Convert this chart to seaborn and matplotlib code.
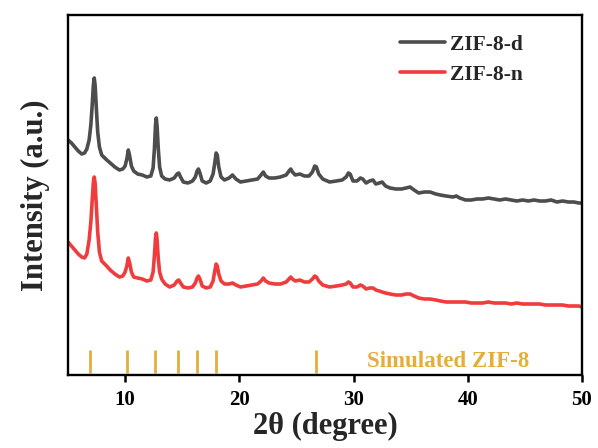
import numpy as np
import pandas as pd
import matplotlib
matplotlib.use("Agg")
import matplotlib.pyplot as plt
import seaborn as sns

# ---- data (2theta in degree, intensity in arbitrary units) ----
two_theta = [5.0, 5.3, 5.6, 5.9, 6.2, 6.45, 6.65, 6.85, 7.0, 7.12,
             7.22, 7.3, 7.38, 7.48, 7.6, 7.75, 7.95, 8.3, 8.7, 9.1,
             9.5, 9.8, 10.0, 10.15, 10.28, 10.4, 10.55, 10.75, 11.1, 11.5,
             11.9, 12.25, 12.45, 12.57, 12.66, 12.73, 12.8, 12.9, 13.02, 13.2,
             13.5, 13.9, 14.3, 14.55, 14.7, 14.85, 15.1, 15.5, 15.9, 16.15,
             16.3, 16.42, 16.55, 16.75, 17.1, 17.45, 17.7, 17.85, 17.97, 18.07,
             18.2, 18.4, 18.7, 19.1, 19.4, 19.7, 20.1, 20.6, 21.1, 21.6,
             21.9, 22.1, 22.3, 22.6, 23.1, 23.6, 24.1, 24.35, 24.5, 24.65,
             24.9, 25.3, 25.7, 26.1, 26.4, 26.6, 26.75, 26.95, 27.3, 27.9,
             28.5, 29.0, 29.35, 29.55, 29.7, 29.95, 30.3, 30.6, 30.8, 31.1,
             31.4, 31.7, 31.95, 32.25, 32.5, 32.8, 33.2, 33.7, 34.2, 34.6,
             34.95, 35.3, 35.7, 36.2, 36.7, 37.2, 37.6, 38.1, 38.7, 39.0,
             39.3, 39.8, 40.3, 40.8, 41.3, 41.8, 42.3, 42.8, 43.3, 43.8,
             44.3, 44.8, 45.3, 45.8, 46.3, 46.8, 47.3, 47.8, 48.3, 48.8,
             49.3, 49.7, 50.0]

zif8_d = [235, 232, 228, 224, 221, 222, 226, 235, 250, 270,
          290, 297, 289, 267, 243, 228, 220, 216, 212, 208,
          205, 206, 209, 216, 225, 219, 209, 204, 201, 200,
          198, 199, 207, 227, 250, 257, 249, 227, 208, 199,
          196, 195, 197, 201, 202, 198, 193, 192, 194, 198,
          204, 206, 202, 194, 192, 194, 201, 212, 222, 220,
          208, 198, 195, 197, 200, 196, 193, 194, 195, 196,
          200, 203, 199, 197, 197, 198, 200, 204, 206, 203,
          200, 201, 199, 199, 203, 209, 208, 201, 196, 193,
          194, 195, 198, 202, 201, 194, 194, 197, 196, 192,
          194, 195, 191, 192, 193, 189, 187, 186, 186, 187,
          188, 185, 182, 183, 183, 181, 180, 179, 178, 179,
          177, 175, 175, 176, 176, 177, 176, 175, 176, 175,
          174, 175, 174, 175, 174, 174, 175, 173, 174, 173,
          173, 172, 172]

zif8_n = [133, 129, 125, 121, 118, 117, 121, 135, 153, 175,
          193, 198, 191, 170, 143, 123, 114, 110, 105, 101,
          98, 99, 103, 109, 117, 112, 103, 98, 97, 96,
          94, 95, 103, 120, 137, 142, 135, 117, 103, 96,
          91, 88, 90, 94, 95, 92, 88, 87, 88, 92,
          97, 99, 96, 89, 87, 88, 94, 104, 111, 109,
          101, 94, 91, 91, 92, 90, 88, 89, 90, 91,
          94, 97, 94, 92, 91, 91, 93, 96, 98, 96,
          94, 95, 93, 93, 96, 99, 98, 94, 90, 88,
          89, 90, 91, 93, 92, 88, 88, 90, 89, 86,
          87, 87, 85, 84, 83, 82, 81, 80, 80, 81,
          81, 79, 77, 76, 76, 75, 74, 73, 73, 73,
          73, 73, 72, 72, 72, 73, 72, 72, 72, 71,
          72, 71, 71, 71, 71, 70, 70, 70, 70, 69,
          69, 69, 68]

series_names = ["ZIF-8-d", "ZIF-8-n"]
simulated_peaks = [6.95, 10.2, 12.65, 14.6, 16.3, 18.0, 26.7]
x_ticks = [10, 20, 30, 40, 50]

df = pd.DataFrame({
    "two_theta": two_theta * 2,
    "intensity": zif8_d + zif8_n,
    "sample": [series_names[0]] * len(two_theta) + [series_names[1]] * len(two_theta),
})

sns.set_theme(style="ticks")
plt.rcParams["font.family"] = ["Liberation Serif", "DejaVu Serif"]
plt.rcParams["font.weight"] = "bold"

fig = plt.figure(figsize=(5.98, 4.48), dpi=100)
ax = fig.add_axes([68 / 598, 1 - 375 / 448, 514 / 598, 360 / 448])

palette = {"ZIF-8-d": "#4D4D4D", "ZIF-8-n": "#F03C3C"}
sns.lineplot(data=df, x="two_theta", y="intensity", hue="sample", palette=palette,
             estimator=None, sort=False, linewidth=2.6, ax=ax, legend=True)

gold = "#E4AE3A"
ax.vlines(simulated_peaks, 2, 25, colors=gold, linewidth=2.0)
ax.text(31.2, 13.5, "Simulated ZIF-8", color=gold, fontsize=16.5, fontweight="bold",
        ha="left", va="center")

ax.set_xlim(5, 50)
ax.set_ylim(0, 360)
ax.set_xticks(x_ticks)
ax.set_xticklabels([str(t) for t in x_ticks], fontsize=15, fontweight="bold")
ax.set_yticks([])
ax.tick_params(axis="x", direction="out", length=5, width=1.8, pad=6, colors="black")
for sp in ax.spines.values():
    sp.set_visible(True)
    sp.set_linewidth(1.7)
    sp.set_color("black")

ax.set_xlabel("2θ (degree)", fontsize=22, fontweight="bold", labelpad=1)
ax.set_ylabel("Intensity (a.u.)", fontsize=22, fontweight="bold", labelpad=13)

handles, labels = ax.get_legend_handles_labels()
leg = ax.legend(handles, labels, loc="upper left", bbox_to_anchor=(0.646, 0.945),
                frameon=False, fontsize=15.5, handlelength=2.1, handletextpad=0.2,
                labelspacing=0.45, borderpad=0, borderaxespad=0)
for t in leg.get_texts():
    t.set_fontweight("bold")
for l in leg.get_lines():
    l.set_linewidth(2.6)

fig.savefig("out.png", dpi=100)
